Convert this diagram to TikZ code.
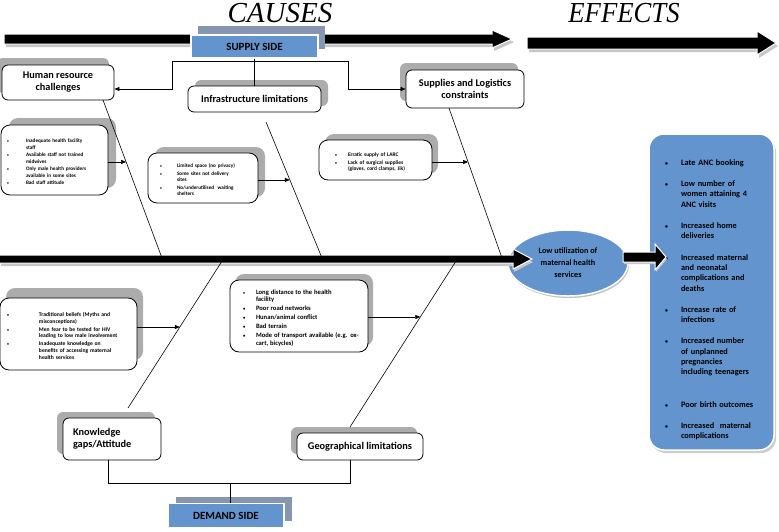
\documentclass[tikz,border=0pt]{standalone}
\usepackage{fontspec}
\setmainfont{Carlito}
\newfontfamily\titlefont{Liberation Serif}
\usetikzlibrary{positioning,shadows,calc,arrows.meta,shapes.geometric}
\definecolor{sideblue}{RGB}{99,148,205}
\definecolor{sidegray}{RGB}{135,150,176}
\definecolor{boxgray}{RGB}{172,172,172}
\newlength{\bind}
\newlength{\boff}
\newcommand{\bset}[2]{\setlength{\bind}{#1}\setlength{\boff}{#2}\setlength{\parskip}{1.2pt}\leftskip=\bind}
\newcommand{\bitem}[1]{\par\noindent\llap{\makebox[\bind][l]{\hspace{\boff}\scalebox{0.7}{\textbullet}}}#1}

\begin{document}
\begin{tikzpicture}[x=1pt,y=-1pt,
    causebox/.style={draw,rounded corners=6pt,fill=white,line width=0.8pt,
      font=\fontsize{10.3}{12}\selectfont\bfseries,align=center,inner sep=2pt},
    listbox/.style={draw,rounded corners=9pt,fill=white,line width=0.8pt,
      inner xsep=4pt,inner ysep=2pt,font=\fontsize{5.2}{6.4}\selectfont\bfseries},
    sidebox/.style={fill=sideblue,draw=white,line width=1.2pt,
      font=\fontsize{11}{13}\selectfont\bfseries,inner sep=0pt},
    backdrop/.style 2 args={general shadow={fill=boxgray,shadow xshift=#1pt,shadow yshift=#2pt}},
    link/.style={line width=0.6pt},
    arr/.style={line width=0.6pt,-{Triangle[length=5pt,width=4pt]}},
    bigarrow/.style={fill=black,draw=white,line width=1pt},
    bigshadow/.style={fill=black!22,draw=none}]

\useasboundingbox (0,0) rectangle (779,531);

% big arrows on top
\fill[bigshadow,shift={(2,3)}] (4,34) -- (492,34) -- (492,30) -- (512,39) -- (492,48) -- (492,44) -- (4,44) -- cycle;
\draw[bigarrow] (4,34) -- (492,34) -- (492,30) -- (512,39) -- (492,48) -- (492,44) -- (4,44) -- cycle;
\fill[bigshadow,shift={(2,3)}] (527,37) -- (757,37) -- (757,31) -- (776,43) -- (757,55) -- (757,49) -- (527,49) -- cycle;
\draw[bigarrow] (527,37) -- (757,37) -- (757,31) -- (776,43) -- (757,55) -- (757,49) -- (527,49) -- cycle;

\node[font=\titlefont\itshape\fontsize{29}{30}\selectfont] (causes) at (280,13) {CAUSES};
\node[font=\titlefont\itshape\fontsize{29}{30}\selectfont,xscale=0.92] (effects) at (624,13) {EFFECTS};

% supply side
\node[sidebox,minimum width=127pt,minimum height=23pt,
  general shadow={fill=sidegray,shadow xshift=7pt,shadow yshift=9pt}] (sup) at (254.5,46.5) {SUPPLY SIDE};
\node[causebox,minimum width=112pt,minimum height=35pt,backdrop={-5}{7}] (hr) at (58,82.5) {Human resource\\challenges};
\node[causebox,minimum width=133pt,minimum height=26pt,backdrop={7}{6},below=27pt of sup.south] (infra) {Infrastructure limitations};
\node[causebox,minimum width=118pt,minimum height=38pt,backdrop={-6}{7}] (logi) at (465,89) {Supplies and Logistics\\constraints};

\coordinate (sl) at (172,61);
\coordinate (sr) at (348,61);
\draw[link] (sl) -- (sr);
\draw[link] (sup.south) -- (infra.north);
\draw[arr] (sl) |- ($(hr.east)+(0,6.5)$);
\draw[arr] (sr) |- (logi.west);

\node[listbox,text width=99pt,minimum height=70pt,backdrop={8}{7}] (hrl) at (54.5,160)
  {\bset{21pt}{2pt}\bitem{Inadequate health facility\newline staff}\bitem{Available staff not trained\newline midwives}\bitem{Only male health providers\newline available in some sites}\bitem{Bad staff attitude}\par};
\node[listbox,text width=102pt,minimum height=50pt,backdrop={7}{6}] (infral) at (203,178)
  {\bset{25pt}{8pt}\bitem{Limited space (no privacy)}\bitem{Some sites not delivery\newline sites}\bitem{No/underutilised\ \ waiting\newline shelters}\par};
\node[listbox,text width=105pt,minimum height=40pt,backdrop={6}{6},font=\fontsize{5.4}{6.6}\selectfont\bfseries] (logil) at (375.5,160)
  {\bset{25pt}{12pt}\bitem{Erratic supply of LARC}\bitem{Lack of surgical supplies\newline (gloves, cord clamps, Jik)}\par};

% main spine and problem
\node[ellipse,fill=sideblue,draw=white,line width=1.5pt,minimum width=120pt,minimum height=66pt,
  inner sep=0pt,align=center,font=\fontsize{8.2}{12}\selectfont\bfseries,
  general shadow={fill=black!25,shadow xshift=1pt,shadow yshift=-2pt}] (low) at (568,263)
  {Low utilization of\\maternal health\\services};
\fill[bigshadow,shift={(1,3)}] (0,255) -- (513,255) -- (513,249) -- (532,259) -- (513,269) -- (513,263) -- (0,263) -- cycle;
\draw[bigarrow] (-2,255) -- (513,255) -- (513,249) -- (532,259) -- (513,269) -- (513,263) -- (-2,263) -- cycle;

% bones above
\coordinate (b1a) at (103,100);
\coordinate (b1b) at (162,258);
\coordinate (b2a) at (266,122);
\coordinate (b2b) at (322,258);
\coordinate (b3a) at (449,108);
\coordinate (b3b) at (502,258);
\draw[link] (b1a) -- (b1b);
\draw[link] (b2a) -- (b2b);
\draw[link] (b3a) -- (b3b);
\coordinate (b1m) at ($(b1a)!0.392!(b1b)$);
\coordinate (b2m) at ($(b2a)!0.426!(b2b)$);
\coordinate (b3m) at ($(b3a)!0.36!(b3b)$);
\draw[arr] (hrl.east |- b1m) -- (b1m);
\draw[arr] (infral.east |- b2m) -- (b2m);
\draw[arr] (logil.east |- b3m) -- (b3m);

% demand side
\node[listbox,text width=129pt,minimum height=72pt,backdrop={6}{10},font=\fontsize{5.6}{6.8}\selectfont\bfseries] (kgl) at (68.5,334)
  {\bset{35pt}{3pt}\bitem{Traditional beliefs (Myths and\newline misconceptions)}\bitem{Men fear to be tested for HIV\newline leading to low male involvement}\bitem{Inadequate knowledge on\newline benefits of accessing maternal\newline health services}\par};
\node[listbox,text width=130pt,minimum height=72pt,backdrop={5}{6},font=\fontsize{5.6}{6.6}\selectfont\bfseries] (geol) at (299,316)
  {\bset{22pt}{9pt}\bitem{\fontsize{6.6}{7.8}\selectfont Long distance to the health\newline facility}\bitem{Poor road networks}\bitem{Hunan/animal conflict}\bitem{Bad terrain}\bitem{Mode of transport available (e.g. ox-\newline cart, bicycles)}\par};
\node[causebox,minimum width=98pt,minimum height=42pt,text width=78pt,align=left,inner xsep=10pt,backdrop={-6}{6}] (kg) at (112,439) {Knowledge\\gaps/Attitude};
\node[causebox,minimum width=126pt,minimum height=27pt,backdrop={-6}{6}] (geo) at (360,446.5) {Geographical limitations};

\coordinate (b4a) at (224,258);
\coordinate (b4b) at (128,408);
\coordinate (b5a) at (458,258);
\coordinate (b5b) at (350,427);
\draw[link] (b4a) -- (b4b);
\draw[link] (b5a) -- (b5b);
\coordinate (b4m) at ($(b4a)!0.46!(b4b)$);
\coordinate (b5m) at ($(b5a)!0.349!(b5b)$);
\draw[arr] (kgl.east |- b4m) -- (b4m);
\draw[arr] (geol.east |- b5m) -- (b5m);

\coordinate (dl) at (108,483);
\coordinate (dr) at (350,483);
\coordinate (dm) at (230,483);
\node[sidebox,minimum width=116pt,minimum height=24pt,below=20pt of dm,xshift=-4pt,
  general shadow={fill=sidegray,shadow xshift=8pt,shadow yshift=7pt}] (dem) {DEMAND SIDE};
\draw[link] (kg.south -| dl) |- (dr) -- (geo.south -| dr);
\draw[link] (dm) -- (dm |- dem.north);

% effects
\node[fill=sideblue,draw=white,line width=1.5pt,rounded corners=15pt,text width=117pt,inner xsep=4pt,
  minimum height=316pt,font=\fontsize{8.3}{10.3}\selectfont\bfseries,
  general shadow={fill=black!20,shadow xshift=2pt,shadow yshift=-3pt}] (eff) at (711.5,292)
  {\setlength{\bind}{28pt}\setlength{\boff}{12pt}\setlength{\parskip}{11pt}\leftskip=\bind
   \bitem{Late ANC booking}\bitem{Low number of\newline women attaining 4\newline ANC visits}\bitem{Increased home\newline deliveries}%
   \bitem{Increased maternal\newline and neonatal\newline complications and\newline deaths}\bitem{Increase rate of\newline infections}%
   \bitem{Increased number\newline of unplanned\newline pregnancies\newline including teenagers}\par\vspace{11pt}%
   \bitem{Poor birth outcomes}\bitem{Increased\ \ maternal\newline complications}\par};
\fill[bigshadow,shift={(1,2)}] (623,252) -- (655,252) -- (655,244) -- (666,257) -- (655,270) -- (655,262) -- (623,262) -- cycle;
\draw[bigarrow] (623,252) -- (655,252) -- (655,244) -- (666,257) -- (655,270) -- (655,262) -- (623,262) -- cycle;

\end{tikzpicture}
\end{document}
